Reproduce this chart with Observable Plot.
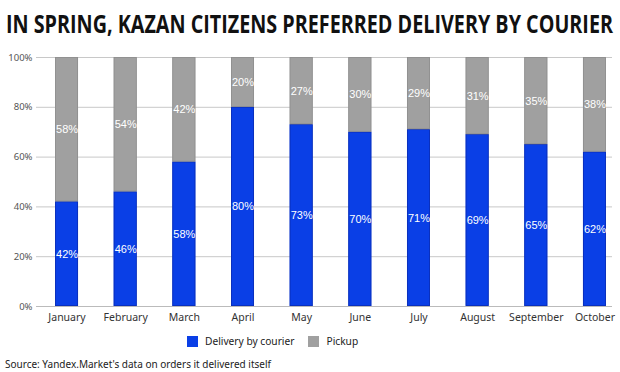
<!DOCTYPE html>
<html><head><meta charset="utf-8">
<script src="https://cdn.jsdelivr.net/npm/d3@7"></script>
<script src="https://cdn.jsdelivr.net/npm/@observablehq/plot@0.6"></script>
<style>
body{margin:0;background:#fff;width:620px;height:372px;overflow:hidden;font-family:"Noto Sans",sans-serif;}
#title{position:absolute;left:6px;top:6px;font-family:"Open Sans",sans-serif;font-weight:700;font-size:25px;line-height:34px;color:#111;white-space:nowrap;transform-origin:0 0;}
#chart{position:absolute;left:0;top:45px;}
#legend{position:absolute;top:334px;left:187px;font-size:10.2px;color:#222;display:flex;align-items:center;}
.sw{display:inline-block;width:11px;height:11px;margin-right:7px;}
#source{position:absolute;left:5px;top:357px;font-size:10px;color:#222;}
</style></head>
<body>
<div id="title">IN SPRING, KAZAN CITIZENS PREFERRED DELIVERY BY COURIER</div>
<div id="chart"></div>
<div id="legend"></div>
<div id="source">Source: Yandex.Market's data on orders it delivered itself</div>
<script>
const months = ["January","February","March","April","May","June","July","August","September","October"];
const courier = [42,46,58,80,73,70,71,69,65,62];
const pickup = [58,54,42,20,27,30,29,31,35,38];
const seriesNames = ["Delivery by courier","Pickup"];
const seriesColors = ["#0a3fe6","#a0a0a0"];
const seriesEdges = ["#0a2db5","#8e8e8e"];
const yTicks = [0,20,40,60,80,100];

const title = document.getElementById("title");
const w = title.getBoundingClientRect().width;
title.style.transform = `scaleX(${607 / w})`;

const data = [];
months.forEach((m,i)=>{
  data.push({month:m, series:seriesNames[0], value:courier[i]});
  data.push({month:m, series:seriesNames[1], value:pickup[i]});
});

const chart = Plot.plot({
  width: 620, height: 285,
  marginLeft: 36, marginRight: 8, marginTop: 12, marginBottom: 24,
  style: {fontFamily: "Noto Sans, sans-serif", background: "#fff"},
  x: {domain: months, range: [37.2, 623.8], paddingInner: 0.608, paddingOuter: 0.304, round: false, label: null, tickSize: 0, tickPadding: 7},
  y: {domain: [0,100], ticks: yTicks, tickFormat: d => d + "%", label: null, tickSize: 0, tickPadding: 4},
  color: {domain: seriesNames, range: seriesColors},
  opacity: {type: "identity"},
  marks: [
    Plot.gridY(yTicks, {stroke: "#c8c8c8", strokeOpacity: 1}),
    Plot.barY(data, Plot.stackY({x: "month", y: "value", z: "series", fill: "series", order: seriesNames})),
    ...seriesNames.map((s, k) => Plot.barY(data, Plot.stackY({x: "month", y: "value", z: "series", order: seriesNames, strokeOpacity: d => d.series === s ? 1 : 0, stroke: seriesEdges[k], strokeWidth: 0.8, fill: "none", inset: 0.4}))),
    Plot.ruleY([0], {stroke: "#bbb"}),
    Plot.text(data, Plot.stackY({x: "month", y: "value", z: "series", order: seriesNames, text: d => d.value + "%", fill: "white", stroke: "none", fontSize: 11, fontFamily: "Liberation Sans, Arial, sans-serif"}))
  ]
});
chart.querySelectorAll("g[aria-label='x-axis tick label']").forEach(g=>{g.setAttribute("font-size","10.5");g.setAttribute("fill","#333");});
chart.querySelectorAll("g[aria-label='y-axis tick label']").forEach(g=>{g.setAttribute("font-size","9.5");g.setAttribute("fill","#555");});
document.getElementById("chart").appendChild(chart);

const leg = document.getElementById("legend");
seriesNames.forEach((s,i)=>{
  const item = document.createElement("span");
  item.style.display="inline-flex"; item.style.alignItems="center"; item.style.marginRight="14px";
  item.innerHTML = `<span class="sw" style="background:${seriesColors[i]}"></span>${s}`;
  leg.appendChild(item);
});
</script>
</body></html>
